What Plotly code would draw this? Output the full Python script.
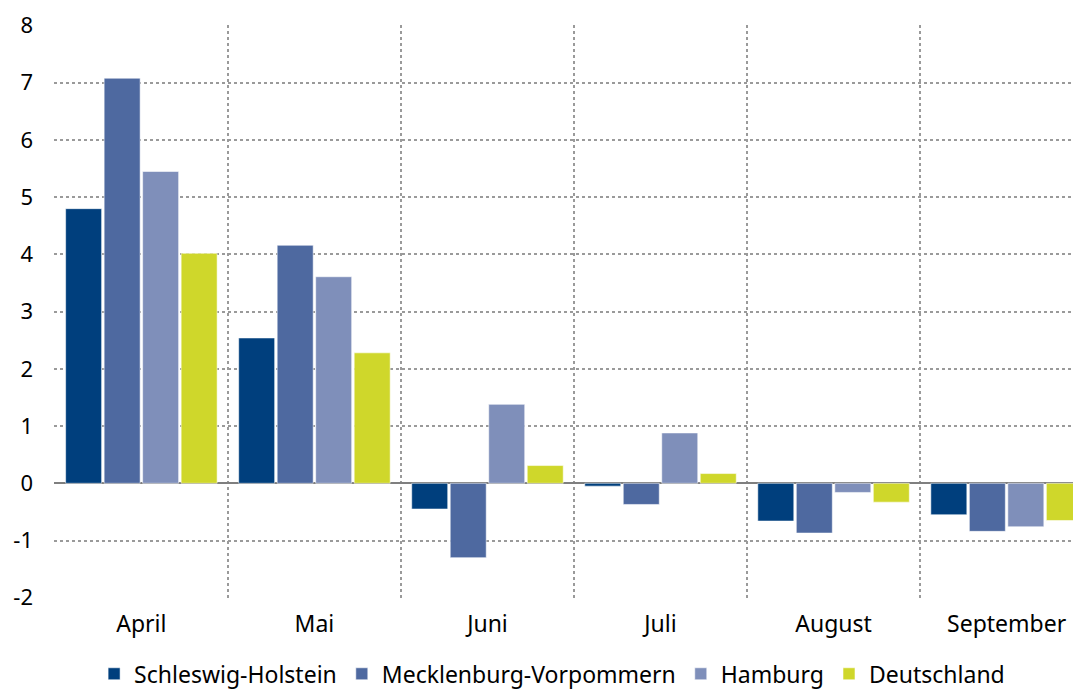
import plotly.graph_objects as go

# -------------------------------Data---------------------------------
months = ['April', 'Mai', 'Juni', 'Juli', 'August', 'September']

schleswig_holstein = [4.80, 2.54, -0.45, -0.05, -0.66, -0.55]
mecklenburg_vorpommern = [7.08, 4.16, -1.30, -0.37, -0.87, -0.84]
hamburg = [5.45, 3.61, 1.38, 0.88, -0.16, -0.76]
deutschland = [4.02, 2.28, 0.31, 0.17, -0.33, -0.65]

series_names = ['Schleswig-Holstein', 'Mecklenburg-Vorpommern', 'Hamburg', 'Deutschland']
series_values = [schleswig_holstein, mecklenburg_vorpommern, hamburg, deutschland]
colors = ['#003f7d', '#4e69a0', '#7f8fba', '#cfd72b']

y_ticks = [-2, -1, 0, 1, 2, 3, 4, 5, 6, 7, 8]

# -------------------------------Plot GroupBAR Chart-----------------------
font_family = 'Noto Sans, Open Sans, sans-serif'

# page body has an 8px margin, so the figure is made 8px smaller each way
layout = go.Layout(
    width=1073, height=685,
    margin=dict(l=46, r=0, t=17, b=95),
    paper_bgcolor='white', plot_bgcolor='white',
    font=dict(family=font_family, size=22, color='#000'),
    barmode='group', bargap=0.11, bargroupgap=0.065,
    showlegend=True,
    legend=dict(orientation='h', x=0.485, xanchor='center',
                yref='container', y=0.028, yanchor='middle',
                font=dict(size=23), itemwidth=30, tracegroupgap=0),
)
fig = go.Figure(layout=layout)

for name, vals, color in zip(series_names, series_values, colors):
    fig.add_trace(go.Bar(x=months, y=vals, name=name,
                         marker=dict(color=color,
                                     line=dict(color='rgba(255,255,255,0.55)', width=1))))

# small padding on the ranges so the border gridlines (x=-0.5, y=8) get drawn
fig.update_xaxes(type='category', tickson='boundaries', range=[-0.505, 5.43],
                 showgrid=True, gridcolor='#9a9a9a', griddash='dot', gridwidth=1.5,
                 showline=False, zeroline=False, ticks='', ticklabelstandoff=10,
                 automargin=False, tickfont=dict(size=23, color='#000'))
fig.update_yaxes(range=[-2.005, 8.01], tickvals=y_ticks, ticktext=[str(v) for v in y_ticks],
                 showgrid=True, gridcolor='#9a9a9a', griddash='dot', gridwidth=1.5,
                 zeroline=True, zerolinecolor='#7f7f7f', zerolinewidth=2,
                 showline=False, ticks='', ticklabelstandoff=20,
                 automargin=False, tickfont=dict(size=22, color='#000'))

fig.write_html("out.html")
